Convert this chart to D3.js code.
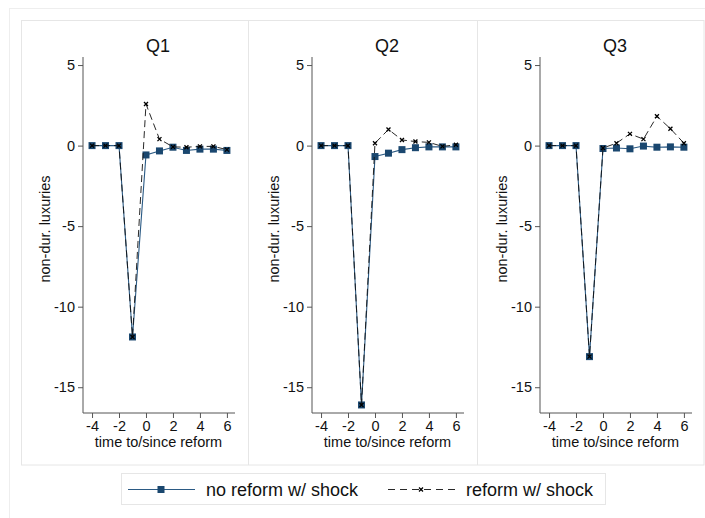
<!DOCTYPE html>
<html>
<head>
<meta charset="utf-8">
<script src="https://cdn.jsdelivr.net/npm/d3@7"></script>
<style>
  body { margin: 0; background: #fff; }
  svg { display: block; font-family: "Liberation Sans", Arial, sans-serif; }
</style>
</head>
<body>
<svg id="chart" width="705" height="518"></svg>
<script>
// Event-time periods and panel titles
const periods = [-4, -3, -2, -1, 0, 1, 2, 3, 4, 5, 6];
const panelTitles = ["Q1", "Q2", "Q3"];

// Non-durable luxuries response, no reform w/ shock
const noReformQ1 = [0, 0, 0, -11.88, -0.58, -0.33, -0.1, -0.3, -0.22, -0.22, -0.3];
const noReformQ2 = [0, 0, 0, -16.1, -0.68, -0.47, -0.25, -0.13, -0.08, -0.08, -0.08];
const noReformQ3 = [0, 0, 0, -13.1, -0.18, -0.15, -0.2, -0.03, -0.1, -0.08, -0.1];

// Non-durable luxuries response, reform w/ shock
const reformQ1 = [0, 0, 0, -11.88, 2.58, 0.4, -0.08, -0.1, -0.05, -0.05, -0.25];
const reformQ2 = [0, 0, 0, -16.1, 0.15, 1.0, 0.35, 0.25, 0.2, -0.05, 0.05];
const reformQ3 = [0, 0, 0, -13.1, -0.15, 0.15, 0.73, 0.4, 1.82, 1.05, 0.15];

// Axis ticks and labels
const yTicks = [5, 0, -5, -10, -15];
const xTicks = [-4, -2, 0, 2, 4, 6];
const yLabel = "non-dur. luxuries";
const xLabel = "time to/since reform";
const legendLabels = ["no reform w/ shock", "reform w/ shock"];

const noReform = [noReformQ1, noReformQ2, noReformQ3];
const reform = [reformQ1, reformQ2, reformQ3];

const svg = d3.select("#chart");
const navy = "#1a476f";
const frame = "#e6e6e6";
const ink = "#111";
const fmt = d => String(d); // plain hyphen-minus for negatives

// outer graph region and inner plot region frames
svg.append("rect").attr("x", 9.5).attr("y", 8.5).attr("width", 720).attr("height", 540)
  .attr("fill", "#fff").attr("stroke", "#eeeeee");
svg.append("rect").attr("x", 21.5).attr("y", 20.5).attr("width", 682.5).attr("height", 444.5)
  .attr("fill", "#fff").attr("stroke", frame);

const panelLeft = [21, 248, 477];
const axisX = [83, 312, 540];
const yTop = 57, yBottom = 413;

const y = d3.scaleLinear().domain([-16.6, 5.5]).range([yBottom, yTop]);

panelLeft.forEach((px, i) => {
  if (i > 0) {
    svg.append("line").attr("x1", px + 0.5).attr("x2", px + 0.5)
      .attr("y1", 20).attr("y2", 465).attr("stroke", frame);
  }
});

panelTitles.forEach((title, i) => {
  const ax = axisX[i];
  const x = d3.scaleLinear().domain([-4.67, 6.6]).range([ax, ax + 152]);
  const g = svg.append("g");

  // panel title
  g.append("text").attr("x", (x(-4.67) + x(6.6)) / 2 - 1).attr("y", 52)
    .attr("text-anchor", "middle").attr("font-size", 18).attr("fill", ink)
    .text(title);

  // y axis
  const yAxis = g.append("g").attr("transform", `translate(${ax},0)`)
    .call(d3.axisLeft(y).tickValues(yTicks).tickSize(5).tickPadding(3).tickFormat(fmt));
  yAxis.select(".domain").attr("stroke", "#555").attr("d", `M0,${yTop}V${yBottom}`);
  yAxis.selectAll(".tick line").attr("stroke", "#555");
  yAxis.selectAll("text").attr("font-size", 14.5).attr("fill", ink)
    .attr("font-family", "Liberation Sans, Arial, sans-serif");

  // x axis
  const xAxis = g.append("g").attr("transform", `translate(0,${yBottom})`)
    .call(d3.axisBottom(x).tickValues(xTicks).tickSize(5).tickPadding(3).tickFormat(fmt));
  xAxis.select(".domain").attr("stroke", "#555").attr("d", `M${ax},0H${ax + 152}`);
  xAxis.selectAll(".tick line").attr("stroke", "#555");
  xAxis.selectAll("text").attr("font-size", 14.5).attr("fill", ink)
    .attr("font-family", "Liberation Sans, Arial, sans-serif");

  // axis titles
  g.append("text")
    .attr("transform", `translate(${ax - 33},${229}) rotate(-90)`)
    .attr("text-anchor", "middle").attr("font-size", 14.5).attr("fill", ink)
    .text(yLabel);
  g.append("text").attr("x", x(1) - 1).attr("y", 447)
    .attr("text-anchor", "middle").attr("font-size", 14.5).attr("fill", ink)
    .text(xLabel);

  const line = d3.line().x((d, k) => x(periods[k])).y(d => y(d));

  // no reform series: solid navy with square markers
  g.append("path").datum(noReform[i]).attr("d", line)
    .attr("fill", "none").attr("stroke", "#2b5a84").attr("stroke-width", 1.1);
  g.selectAll(".sq").data(noReform[i]).enter().append("rect")
    .attr("x", (d, k) => x(periods[k]) - 3.5).attr("y", d => y(d) - 3.5)
    .attr("width", 7).attr("height", 7).attr("fill", navy);

  // reform series: dashed black with x markers
  g.append("path").datum(reform[i]).attr("d", line)
    .attr("fill", "none").attr("stroke", ink).attr("stroke-width", 0.9)
    .attr("stroke-dasharray", "7,4");
  g.selectAll(".xm").data(reform[i]).enter().append("path")
    .attr("d", (d, k) => {
      const cx = x(periods[k]), cy = y(d), r = 2;
      return `M${cx - r},${cy - r}L${cx + r},${cy + r}M${cx - r},${cy + r}L${cx + r},${cy - r}`;
    })
    .attr("stroke", "#000").attr("stroke-width", 1.3).attr("fill", "none");
});

// legend
const leg = svg.append("g");
leg.append("rect").attr("x", 121.5).attr("y", 473.5).attr("width", 484).attr("height", 31)
  .attr("fill", "#fff").attr("stroke", frame);
leg.append("line").attr("x1", 128).attr("x2", 195).attr("y1", 489.5).attr("y2", 489.5)
  .attr("stroke", "#2b5a84").attr("stroke-width", 1.1);
leg.append("rect").attr("x", 157.5).attr("y", 486).attr("width", 7).attr("height", 7).attr("fill", navy);
leg.append("text").attr("x", 206).attr("y", 496).attr("font-size", 18).attr("fill", ink)
  .text(legendLabels[0]);
leg.append("line").attr("x1", 388).attr("x2", 455).attr("y1", 489.5).attr("y2", 489.5)
  .attr("stroke", ink).attr("stroke-width", 0.9).attr("stroke-dasharray", "7,5");
leg.append("path")
  .attr("d", "M419,487.5L423,491.5M419,491.5L423,487.5")
  .attr("stroke", "#000").attr("stroke-width", 1.3);
leg.append("text").attr("x", 466).attr("y", 496).attr("font-size", 18).attr("fill", ink)
  .text(legendLabels[1]);
</script>
</body>
</html>
